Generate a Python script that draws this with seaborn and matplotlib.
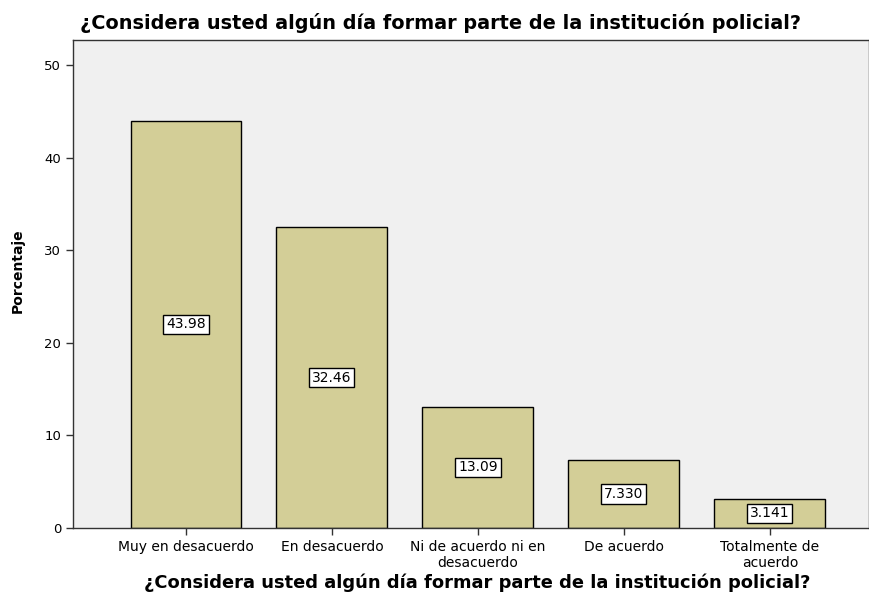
import seaborn as sns
import matplotlib.pyplot as plt

categories = ["Muy en desacuerdo", "En desacuerdo", "Ni de acuerdo ni en\ndesacuerdo",
              "De acuerdo", "Totalmente de\nacuerdo"]
values = [43.98, 32.46, 13.09, 7.330, 3.141]
value_labels = ["43.98", "32.46", "13.09", "7.330", "3.141"]
title = "¿Considera usted algún día formar parte de la institución policial?"

plt.rcParams['font.family'] = ['DejaVu Sans']

fig = plt.figure(figsize=(8.7, 5.97), dpi=100)
ax = fig.add_axes([0.0839, 0.1156, 0.9151, 0.8174])
ax.set_facecolor('#F0F0F0')

sns.barplot(x=categories, y=values, color='#D3CE97', saturation=1,
            width=0.76, edgecolor='black', linewidth=1, ax=ax)

for i, (v, lab) in enumerate(zip(values, value_labels)):
    ax.text(i, v / 2, lab, ha='center', va='center', fontsize=10,
            bbox=dict(boxstyle='square,pad=0.2', fc='white', ec='black', lw=1))

ax.set_ylim(0, 52.7)
ax.set_xlim(-0.774, 4.68)
ax.set_yticks([0, 10, 20, 30, 40, 50])
ax.tick_params(axis='both', direction='out', length=5, width=1, labelsize=10,
               colors='#333333', labelcolor='black')
ax.tick_params(axis='y', labelsize=9.5)
for s in ax.spines.values():
    s.set_color('#333333')
    s.set_linewidth(1)

ax.set_ylabel("Porcentaje", fontsize=10, fontweight='bold')
ax.yaxis.set_label_coords(-0.06, 0.527)
ax.set_xlabel(title, fontsize=12.9, fontweight='bold')
ax.xaxis.set_label_coords(0.508, -0.093)
fig.text(0.092, 0.962, title, fontsize=13.9, fontweight='bold', ha='left', va='center')

plt.savefig("out.png", dpi=100)
